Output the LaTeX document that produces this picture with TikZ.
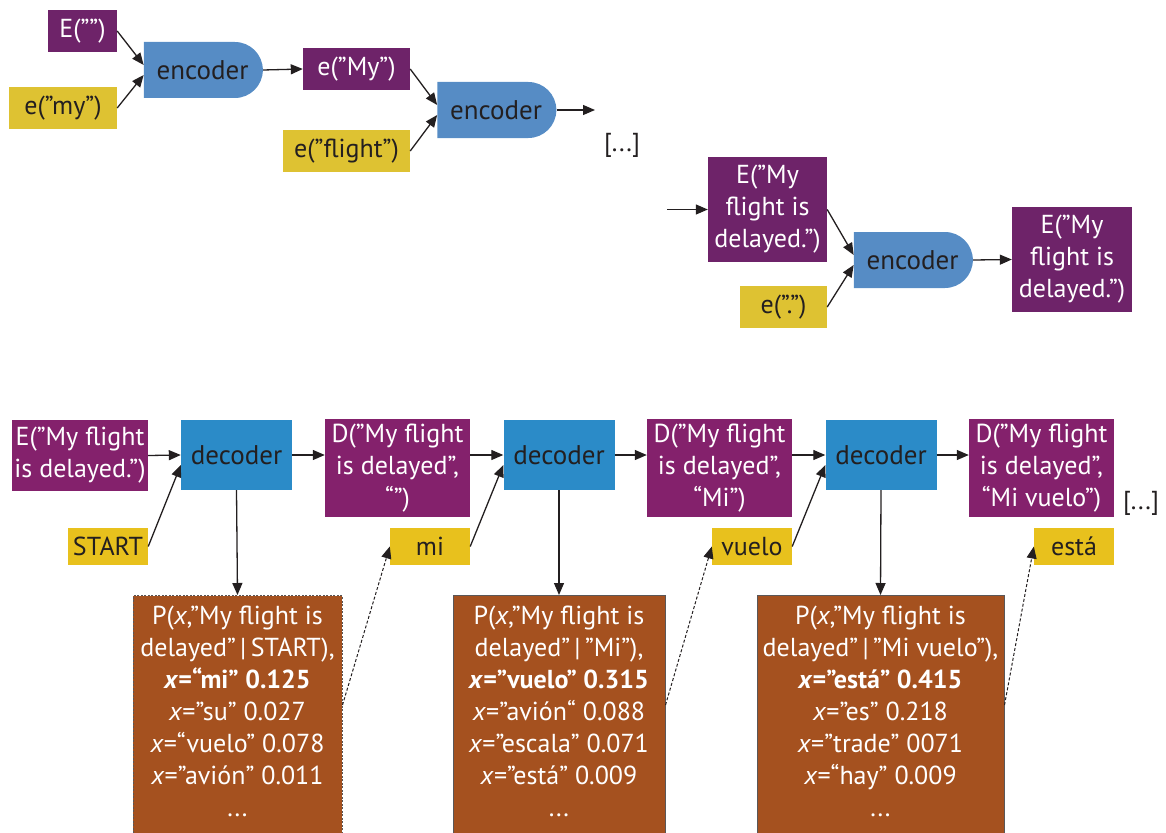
\documentclass[tikz,border=0pt]{standalone}
\usepackage{fontspec}
\setmainfont{PT Sans}
\usetikzlibrary{shapes.misc,arrows.meta}
\definecolor{ink}{HTML}{231F20}
\definecolor{encpurple}{HTML}{6E2369}
\definecolor{decpurple}{HTML}{84216C}
\definecolor{encyellow}{HTML}{DEC232}
\definecolor{decyellow}{HTML}{E8C11D}
\definecolor{encblue}{HTML}{568CC5}
\definecolor{decblue}{HTML}{2B8BC8}
\definecolor{probbrown}{HTML}{A5511F}

\begin{document}
\begin{tikzpicture}[x=1pt,y=1pt]
	\tikzstyle{every node}+=[inner sep=0pt, align=center, font=\fontsize{26}{32}\selectfont]
	\tikzstyle{vecbox}=[fill=encpurple, text=white, minimum height=42pt]
	\tikzstyle{wordbox}=[fill=encyellow, text=ink, minimum height=42pt]
	\tikzstyle{encbox}=[rounded rectangle, rounded rectangle west arc=none, fill=encblue, text=ink, minimum width=119pt, minimum height=56pt, font=\fontsize{27}{32}\selectfont]
	\tikzstyle{decbox}=[fill=decblue, text=ink, minimum width=111pt, minimum height=70pt, font=\fontsize{27}{32}\selectfont]
	\tikzstyle{statebox}=[fill=decpurple, text=white, minimum width=145pt, minimum height=98pt]
	\tikzstyle{tokbox}=[fill=decyellow, text=ink, minimum width=80pt, minimum height=37pt]
	\tikzstyle{probbox}=[fill=probbrown, draw=ink!75, line width=1pt, anchor=north, minimum height=260pt]
	\tikzstyle{probtext}=[text=white, anchor=north, font=\fontsize{26}{32}\selectfont]
	\tikzstyle{link}=[draw=ink, line width=1.3pt, -{Triangle[length=12pt,width=10pt]}]
	\tikzstyle{pick}=[link, dash pattern=on 3pt off 2pt, line width=1pt]
	\useasboundingbox (0,-832) rectangle (1166,0);
	\clip (0,-832) rectangle (1166,0);
	\node [vecbox, minimum width=69pt] (Enull) at (82.5,-31) {E(””)};
	\node [wordbox, minimum width=108pt] (emy) at (63,-108) {e(”my”)};
	\node [encbox] (enc1) at (202.5,-70) {encoder};
	\node [vecbox, minimum width=107pt] (eMy) at (356.5,-69) {e(”My”)};
	\node [wordbox, minimum width=127pt] (eflight) at (346.5,-151) {e(”flight”)};
	\node [encbox] (enc2) at (496,-110) {encoder};
	\coordinate (encout) at (595,-110);
	\node [text=ink] (dotsA) at (622,-145) {[...]};
	\coordinate (encin) at (667,-209.5);
	\node [vecbox, minimum width=119pt, minimum height=105pt] (Edel) at (767.5,-209.5) {E(”My\\flight is\\delayed.”)};
	\node [wordbox, minimum width=87pt] (edot) at (783.5,-307) {e(”.”)};
	\node [encbox] (enc3) at (912.5,-260) {encoder};
	\node [vecbox, minimum width=120pt, minimum height=105pt] (Efinal) at (1072,-259.5) {E(”My\\flight is\\delayed.”)};
	\draw [link] (Enull.east) -- ([yshift=5pt]enc1.west);
	\draw [link] (emy.east) -- ([yshift=-5pt]enc1.west);
	\draw [link] (enc1.east) -- (eMy.west);
	\draw [link] (eMy.east) -- ([yshift=5pt]enc2.west);
	\draw [link] (eflight.east) -- ([yshift=-5pt]enc2.west);
	\draw [link] (enc2.east) -- (encout);
	\draw [link] (encin) -- (Edel.west);
	\draw [link] (Edel.east) -- ([yshift=5pt]enc3.west);
	\draw [link] (edot.east) -- ([yshift=-5pt]enc3.west);
	\draw [link] (enc3.east) -- (Efinal.west);
	\node [statebox, minimum width=136pt, minimum height=71pt] (Ein) at (80,-455.5) {E(”My flight\\is delayed.”)};
	\node [tokbox] (start) at (108,-546.5) {START};
	\node [decbox] (dec1) at (236.5,-455) {decoder};
	\node [statebox] (D1) at (397.5,-468) {D(”My flight\\is delayed”,\\“”)};
	\node [tokbox] (mi) at (430,-546.5) {mi};
	\node [decbox] (dec2) at (559,-455) {decoder};
	\node [statebox] (D2) at (719.5,-468) {D(”My flight\\is delayed”,\\“Mi”)};
	\node [tokbox] (vuelo) at (752,-546.5) {vuelo};
	\node [decbox] (dec3) at (881,-455) {decoder};
	\node [statebox] (D3) at (1041.5,-468) {D(”My flight\\is delayed”,\\“Mi vuelo”)};
	\node [tokbox] (esta) at (1074,-546.5) {está};
	\node [text=ink] (dotsB) at (1141,-503) {[...]};
	\node [probbox, minimum width=209pt, dash pattern=on 2pt off 1.5pt] (P1) at (237.5,-595) {};
	\node [probtext] (P1t) at ([yshift=-11pt]P1.north) {P(\textit{x},”My flight is\\delayed”\,|\,START),\\\textbf{\textit{x}=“mi” 0.125}\\\textit{x}=”su” 0.027\\\textit{x}=“vuelo” 0.078\\\textit{x}=”avión” 0.011\\...};
	\node [probbox, minimum width=212pt] (P2) at (559,-595) {};
	\node [probtext] (P2t) at ([yshift=-11pt]P2.north) {P(\textit{x},”My flight is\\delayed”\,|\,”Mi”),\\\textbf{\textit{x}=”vuelo” 0.315}\\\textit{x}=”avión“ 0.088\\\textit{x}=”escala” 0.071\\\textit{x}=”está” 0.009\\...};
	\node [probbox, minimum width=247pt] (P3) at (880.5,-595) {};
	\node [probtext] (P3t) at ([yshift=-11pt]P3.north) {P(\textit{x},”My flight is\\delayed”\,|\,”Mi vuelo”),\\\textbf{\textit{x}=”está” 0.415}\\\textit{x}=”es” 0.218\\\textit{x}=”trade” 0071\\\textit{x}=“hay” 0.009\\...};
	\draw [link] (Ein.east) -- (dec1.west);
	\draw [link] (start.east) -- ([yshift=-10pt]dec1.west);
	\draw [link] (dec1.east) -- (D1.west |- dec1.east);
	\draw [link] (D1.east |- dec2.west) -- (dec2.west);
	\draw [link] (mi.east) -- ([yshift=-10pt]dec2.west);
	\draw [link] (dec2.east) -- (D2.west |- dec2.east);
	\draw [link] (D2.east |- dec3.west) -- (dec3.west);
	\draw [link] (vuelo.east) -- ([yshift=-10pt]dec3.west);
	\draw [link] (dec3.east) -- (D3.west |- dec3.east);
	\draw [link] (dec1.south) -- (P1.north);
	\draw [link] (dec2.south) -- (P2.north);
	\draw [link] (dec3.south) -- (P3.north);
	\draw [pick] ([yshift=-110pt]P1.north east) -- (mi.west);
	\draw [pick] ([yshift=-110pt]P2.north east) -- (vuelo.west);
	\draw [pick] ([yshift=-110pt]P3.north east) -- (esta.west);
\end{tikzpicture}
\end{document}
